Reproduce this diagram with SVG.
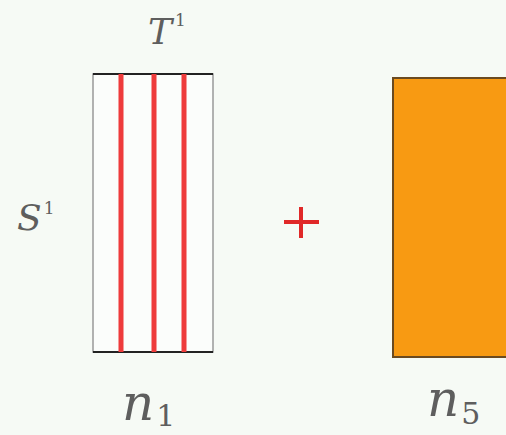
<svg xmlns="http://www.w3.org/2000/svg" width="506" height="435" viewBox="0 0 506 435">
<style>
.t{fill:#5e5e5e}
.it{font-style:italic}
.red{stroke:#ee3b3b;stroke-width:5}
</style>
<rect x="0" y="0" width="506" height="435" fill="#f6faf5"/>
<g id="n1">
<rect x="93" y="74" width="120" height="278" fill="#fbfdfb" stroke="#999" stroke-width="1.5"/>
<line x1="93" y1="74" x2="213" y2="74" stroke="#222" stroke-width="2"/>
<line x1="93" y1="352" x2="213" y2="352" stroke="#222" stroke-width="2"/>
<line class="red" x1="121" y1="74" x2="121" y2="352"/>
<line class="red" x1="154" y1="74" x2="154" y2="352"/>
<line class="red" x1="184" y1="74" x2="184" y2="352"/>
<text class="t" font-family="DejaVu Serif, serif" x="148" y="44" font-size="36"><tspan class="it">T</tspan><tspan font-size="17" dx="3" dy="-18">1</tspan></text>
<text class="t" font-family="DejaVu Serif, serif" x="17" y="230" font-size="36"><tspan class="it">S</tspan><tspan font-size="17" dx="2" dy="-16">1</tspan></text>
<text class="t" font-family="DejaVu Serif, serif" x="122" y="420" font-size="50"><tspan class="it">n</tspan><tspan font-size="30" dx="2" dy="6">1</tspan></text>
</g>
<g id="plus">
<line x1="284" y1="222" x2="319" y2="222" stroke="#e02828" stroke-width="4"/>
<line x1="301" y1="207" x2="301" y2="238" stroke="#e02828" stroke-width="4"/>
</g>
<g id="n5">
<rect x="393" y="78" width="120" height="279" fill="#f89a12" stroke="#6b4a20" stroke-width="2"/>
<text class="t" font-family="DejaVu Serif, serif" x="427" y="416" font-size="50"><tspan class="it">n</tspan><tspan font-size="30" dx="2" dy="8">5</tspan></text>
</g>
</svg>
